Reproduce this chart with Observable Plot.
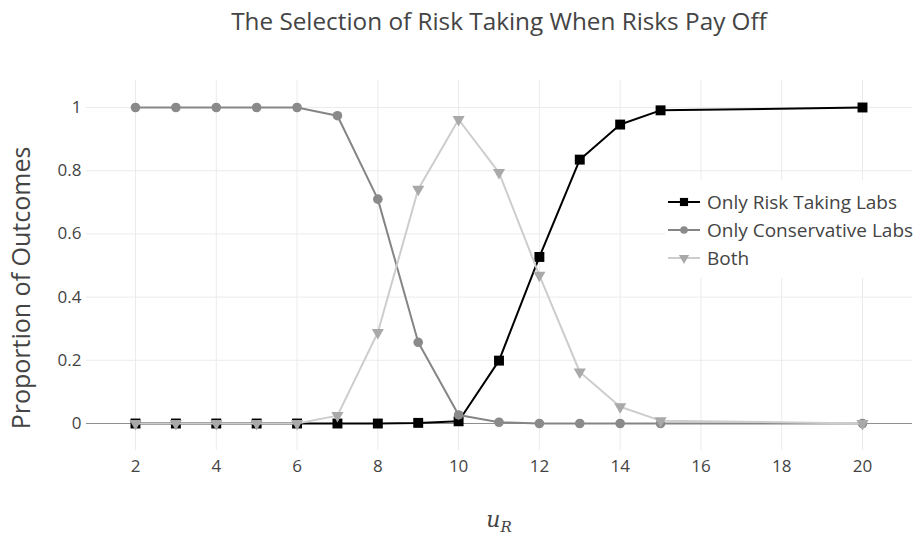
<!DOCTYPE html>
<html>
<head>
<meta charset="utf-8">
<script src="https://cdn.jsdelivr.net/npm/d3@7"></script>
<script src="https://cdn.jsdelivr.net/npm/@observablehq/plot@0.6"></script>
<style>
  html, body { margin: 0; padding: 0; background: #fff; }
  #chart { width: 917px; height: 535px; }
</style>
</head>
<body>
<div id="chart"></div>
<script>
const titleText = "The Selection of Risk Taking When Risks Pay Off";
const yLabel = "Proportion of Outcomes";
const seriesNames = ["Only Risk Taking Labs", "Only Conservative Labs", "Both"];
const uR = [2, 3, 4, 5, 6, 7, 8, 9, 10, 11, 12, 13, 14, 15, 20];
const riskOnly = [0, 0, 0, 0, 0, 0, 0, 0.002, 0.007, 0.199, 0.527, 0.835, 0.946, 0.991, 1];
const conservativeOnly = [1, 1, 1, 1, 1, 0.974, 0.71, 0.257, 0.027, 0.004, 0, 0, 0, 0, 0];
const bothLabs = [0, 0, 0, 0, 0, 0.025, 0.288, 0.741, 0.962, 0.794, 0.469, 0.163, 0.053, 0.009, 0];
const xTicks = [2, 4, 6, 8, 10, 12, 14, 16, 18, 20];
const yTicks = [0, 0.2, 0.4, 0.6, 0.8, 1];

const seriesValues = [riskOnly, conservativeOnly, bothLabs];
const styles = [
  {line: "#000000", marker: "#000000", symbol: "square", r: 5.6, rotate: 0, legendR: 4.6},
  {line: "#858585", marker: "#8a8a8a", symbol: "circle", r: 4.8, rotate: 0, legendR: 3.8},
  {line: "#cdcdcd", marker: "#a9a9a9", symbol: "triangle", r: 4.5, rotate: 180, legendR: 3.8}
];

const rows = seriesNames.map((name, i) => uR.map((u, j) => ({u, value: seriesValues[i][j], series: name})));

const W = 917, H = 535;
const mL = 86, mR = 5, mT = 80, mB = 85;

const marks = [
  Plot.gridX(xTicks, {stroke: "#ebebeb", strokeOpacity: 1}),
  Plot.gridY(yTicks.filter(d => d !== 0), {stroke: "#ebebeb", strokeOpacity: 1}),
  Plot.ruleY([0], {stroke: "#8f8f8f", strokeWidth: 1}),
  Plot.axisX(xTicks, {tickSize: 0, tickPadding: 9, fontSize: 17, fill: "#444", label: null}),
  Plot.axisY(yTicks, {tickSize: 0, tickPadding: 5, fontSize: 17, fill: "#444", label: null, tickFormat: d => String(d)})
];
rows.forEach((data, i) => {
  const s = styles[i];
  marks.push(Plot.line(data, {x: "u", y: "value", stroke: s.line, strokeWidth: 2}));
  marks.push(Plot.dot(data, {x: "u", y: "value", symbol: () => s.symbol, fill: s.marker, stroke: "none", r: s.r, rotate: s.rotate}));
});

const chart = Plot.plot({
  width: W, height: H,
  marginLeft: mL, marginRight: mR, marginTop: mT, marginBottom: mB,
  style: {fontFamily: "'Open Sans', sans-serif", color: "#444", background: "#fff", overflow: "visible"},
  x: {domain: [0.787, 21.238], axis: null},
  y: {domain: [-0.0854, 1.0854], axis: null},
  marks
});
document.getElementById("chart").appendChild(chart);

const svg = d3.select(chart);
const font = "'Open Sans', sans-serif";

// Title
svg.append("text")
  .attr("x", (mL + W - mR) / 2).attr("y", 30)
  .attr("text-anchor", "middle")
  .attr("font-family", font).attr("font-size", 24.3).attr("fill", "#444")
  .text(titleText);

// Y-axis title
const plotMidY = 288;
svg.append("text")
  .attr("transform", `translate(30,${plotMidY}) rotate(-90)`)
  .attr("text-anchor", "middle")
  .attr("font-family", font).attr("font-size", 25).attr("fill", "#444")
  .text(yLabel);

// X-axis title (math u_R)
const xt = svg.append("text")
  .attr("x", 499).attr("y", 527)
  .attr("text-anchor", "middle")
  .attr("font-family", "'DejaVu Serif', 'Liberation Serif', serif")
  .attr("font-style", "italic").attr("font-size", 22).attr("fill", "#444");
xt.append("tspan").text("u");
xt.append("tspan").attr("font-size", 15).attr("dy", 5).text("R");

// Legend
const lg = svg.append("g").attr("text-anchor", "start");
lg.append("rect").attr("x", 665).attr("y", 180).attr("width", 252).attr("height", 98).attr("fill", "#fff");
seriesNames.forEach((name, i) => {
  const s = styles[i];
  const y = 202 + i * 28;
  lg.append("line").attr("x1", 668).attr("x2", 700).attr("y1", y).attr("y2", y)
    .attr("stroke", s.line).attr("stroke-width", 2);
  const sym = d3.symbol().type(s.symbol === "square" ? d3.symbolSquare : s.symbol === "circle" ? d3.symbolCircle : d3.symbolTriangle)
    .size(Math.PI * s.legendR * s.legendR);
  lg.append("path").attr("d", sym()).attr("fill", s.marker)
    .attr("transform", `translate(684,${y}) rotate(${s.rotate})`);
  lg.append("text").attr("x", 707).attr("y", y).attr("dy", "0.35em")
    .attr("text-anchor", "start")
    .attr("font-family", font).attr("font-size", 19).attr("fill", "#444")
    .text(name);
});
</script>
</body>
</html>
